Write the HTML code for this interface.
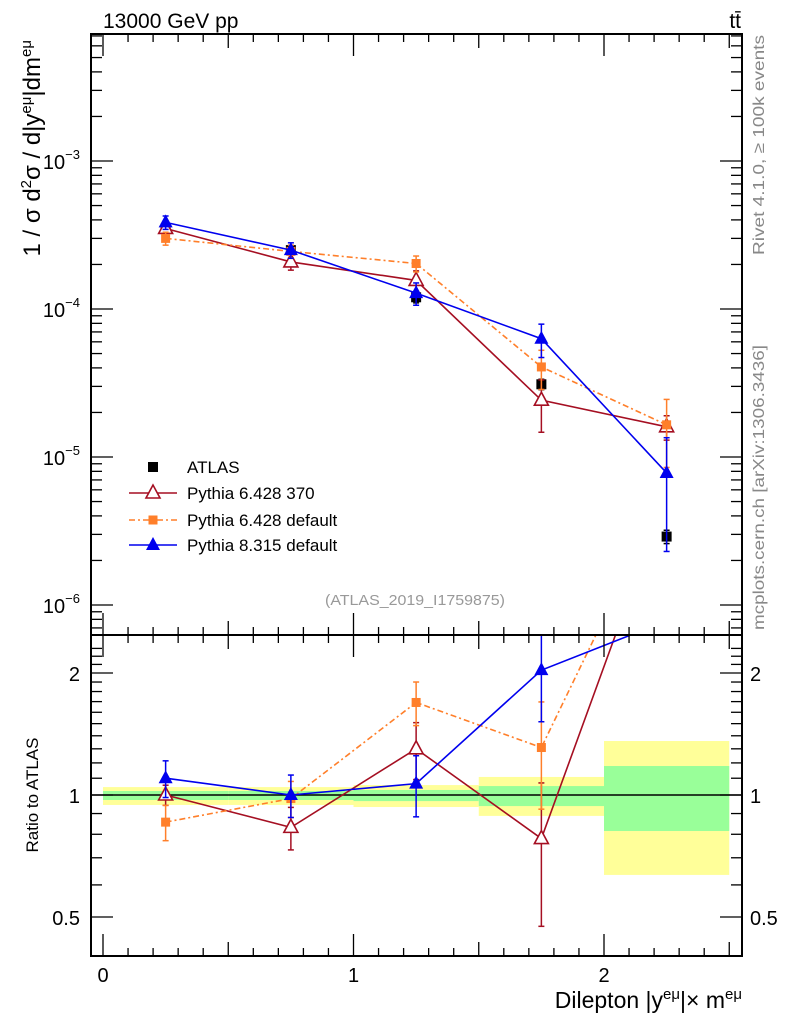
<!DOCTYPE html>
<html><head><meta charset="utf-8"><style>
html,body{margin:0;padding:0;background:#fff;}
svg{display:block;font-family:"Liberation Sans",sans-serif;}
</style></head><body>
<svg id="chart" width="786" height="1024" viewBox="0 0 786 1024" xmlns="http://www.w3.org/2000/svg">
<rect width="786" height="1024" fill="#fff"/>
<g id="bands"></g>
<g id="marks"></g>
<g id="axes"></g>
<text x="103" y="28" font-size="21">13000 GeV pp</text>
<text x="741" y="28" font-size="21" text-anchor="end">tt̄</text>
<text transform="translate(764,35) rotate(-90)" font-size="16" fill="#888" text-anchor="end" textLength="220" lengthAdjust="spacingAndGlyphs">Rivet 4.1.0, ≥ 100k events</text>
<text transform="translate(764,630) rotate(-90)" font-size="16" fill="#888" textLength="285" lengthAdjust="spacingAndGlyphs">mcplots.cern.ch [arXiv:1306.3436]</text>
<text x="415" y="605" font-size="15" fill="#999" text-anchor="middle" textLength="180" lengthAdjust="spacingAndGlyphs">(ATLAS_2019_I1759875)</text>
<text transform="translate(40,40) rotate(-90)" font-size="24" text-anchor="end">1 / σ  d<tspan font-size="15" dy="-9">2</tspan><tspan dy="9">σ / d|y</tspan><tspan font-size="15" dy="-9">eμ</tspan><tspan dy="9">|dm</tspan><tspan font-size="15" dy="-9">eμ</tspan></text>
<text transform="translate(38,795) rotate(-90)" font-size="17" text-anchor="middle">Ratio to ATLAS</text>
<text x="742" y="1008" font-size="23" text-anchor="end">Dilepton |y<tspan font-size="15" dy="-9">eμ</tspan><tspan dy="9">|× m</tspan><tspan font-size="15" dy="-9">eμ</tspan></text>
<g id="legend"></g>
</svg>
<script>
const xCenters=[0.25,0.75,1.25,1.75,2.25];
const binEdges=[0,0.5,1,1.5,2,2.5];
const atlasVals=[3.5e-4,2.5e-4,1.2e-4,3.1e-5,2.9e-6];
const atlasErr=[0.15e-4,0.15e-4,0.1e-4,0.25e-5,0.3e-6];
const p6370Vals=[3.5e-4,2.08e-4,1.56e-4,2.42e-5,1.6e-5];
const p6370Up=[0.2e-4,0.25e-4,0.25e-4,0.9e-5,0.3e-5];
const p6370Dn=[0.2e-4,0.25e-4,0.25e-4,0.95e-5,0.3e-5];
const p6defVals=[3.0e-4,2.45e-4,2.03e-4,4.06e-5,1.65e-5];
const p6defUp=[0.3e-4,0.25e-4,0.25e-4,1.2e-5,0.8e-5];
const p6defDn=[0.3e-4,0.25e-4,0.25e-4,1.2e-5,0.8e-5];
const p8Vals=[3.85e-4,2.5e-4,1.28e-4,6.3e-5,7.8e-6];
const p8Up=[0.4e-4,0.3e-4,0.22e-4,1.6e-5,5.7e-6];
const p8Dn=[0.4e-4,0.3e-4,0.22e-4,1.6e-5,5.5e-6];
const yellowHi=[1.046,1.046,1.058,1.108,1.359];
const yellowLo=[0.945,0.945,0.934,0.888,0.635];
const greenHi=[1.023,1.023,1.029,1.052,1.179];
const greenLo=[0.972,0.972,0.966,0.939,0.815];
const mainTicks=[-6,-5,-4,-3];
const ratioTicks=[0.5,1,2];
const xTicks=[0,1,2];

const NS='http://www.w3.org/2000/svg';
const L=91,R=742,T=34,MB=635,RB=956;
const X=v=>103+(v)*250.5;
const Y=v=>605-(Math.log10(v)+6)*148;
const YR=v=>795-Math.log2(v)*122;
function el(tag,attrs,parent,text){const e=document.createElementNS(NS,tag);for(const k in attrs)e.setAttribute(k,attrs[k]);if(text!==undefined)e.textContent=text;parent.appendChild(e);return e;}
const bands=document.getElementById('bands'),marks=document.getElementById('marks'),axes=document.getElementById('axes'),legend=document.getElementById('legend');

for(let i=0;i<5;i++){
  const x0=X(binEdges[i]),x1=X(binEdges[i+1]);
  let r=el('rect',{x:x0,y:YR(yellowHi[i]),width:x1-x0,height:YR(yellowLo[i])-YR(yellowHi[i]),fill:'#ffff99'},bands);
  
  
  r=el('rect',{x:x0,y:YR(greenHi[i]),width:x1-x0,height:YR(greenLo[i])-YR(greenHi[i]),fill:'#99ff99'},bands);
  
  
}
let one=el('line',{x1:L,x2:R,y1:YR(1),y2:YR(1),stroke:'#000','stroke-width':1.5},bands);



function marker(type,x,y,color,g){
  if(type==='sq')el('rect',{x:x-5,y:y-5,width:10,height:10,fill:color},g);
  else if(type==='ssq')el('rect',{x:x-4.5,y:y-4.5,width:9,height:9,fill:color},g);
  else if(type==='tri')el('polygon',{points:`${x},${y-8} ${x-7},${y+5} ${x+7},${y+5}`,fill:color},g);
  else if(type==='otri')el('polygon',{points:`${x},${y-8} ${x-7},${y+5} ${x+7},${y+5}`,fill:'#fff',stroke:color,'stroke-width':1.6},g);
}
function series(name,vals,up,dn,color,dash,mtype){
  const g=el('g',{},marks);
  
  
  const gm=el('g',{'clip-path':'url(#cmain)'},g);
  const gr=el('g',{'clip-path':'url(#cratio)'},g);
  if(up){
    el('polyline',{points:vals.map((v,i)=>X(xCenters[i])+','+Y(v)).join(' '),fill:'none',stroke:color,'stroke-width':1.6,'stroke-dasharray':dash},gm);
    el('polyline',{points:vals.map((v,i)=>X(xCenters[i])+','+YR(v/atlasVals[i])).join(' '),fill:'none',stroke:color,'stroke-width':1.6,'stroke-dasharray':dash},gr);
  }
  vals.forEach((v,i)=>{
    const x=X(xCenters[i]);
    const u=up?up[i]:atlasErr[i], d=dn?dn[i]:atlasErr[i];
    el('line',{x1:x,x2:x,y1:Y(v+u),y2:Y(v-d),stroke:color,'stroke-width':1.5},gm);
    el('line',{x1:x-3,x2:x+3,y1:Y(v+u),y2:Y(v+u),stroke:color,'stroke-width':1.5},gm);
    el('line',{x1:x-3,x2:x+3,y1:Y(v-d),y2:Y(v-d),stroke:color,'stroke-width':1.5},gm);
    marker(mtype,x,Y(v),color,gm);
    if(up){
      const a=atlasVals[i];
      if(YR(v/a)<MB) return;
      el('line',{x1:x,x2:x,y1:YR((v+u)/a),y2:YR((v-d)/a),stroke:color,'stroke-width':1.5},gr);
      el('line',{x1:x-3,x2:x+3,y1:YR((v+u)/a),y2:YR((v+u)/a),stroke:color,'stroke-width':1.5},gr);
      el('line',{x1:x-3,x2:x+3,y1:YR((v-d)/a),y2:YR((v-d)/a),stroke:color,'stroke-width':1.5},gr);
      marker(mtype,x,YR(v/a),color,gr);
    }
  });
}
const defs=el('defs',{},document.getElementById('chart'));
const c1=el('clipPath',{id:'cmain'},defs);el('rect',{x:L,y:T,width:R-L,height:MB-T},c1);
const c2=el('clipPath',{id:'cratio'},defs);el('rect',{x:L,y:MB,width:R-L,height:RB-MB},c2);
series('atlas',atlasVals,null,null,'#000','','sq');
series('pythia6-370',p6370Vals,p6370Up,p6370Dn,'#a50f22','','otri');
series('pythia6-default',p6defVals,p6defUp,p6defDn,'#ff7f2a','6 3 2 3','ssq');
series('pythia8-default',p8Vals,p8Up,p8Dn,'#0000ee','','tri');

[[T,MB],[MB,RB]].forEach((f,k)=>{const r=el('rect',{x:L,y:f[0],width:R-L,height:f[1]-f[0],fill:'none',stroke:'#000','stroke-width':2},axes);

});
for(let d=-7;d<=-2;d++){for(let m=1;m<10;m++){const v=m*Math.pow(10,d);const y=Y(v);if(y<T||y>MB)continue;const len=m===1?22:11;
el('line',{x1:L,x2:L+len,y1:y,y2:y,stroke:'#000','stroke-width':1.3},axes);el('line',{x1:R-len,x2:R,y1:y,y2:y,stroke:'#000','stroke-width':1.3},axes);}}
mainTicks.forEach(d=>{const t=el('text',{x:80,y:Y(Math.pow(10,d))+8,'font-size':20,'text-anchor':'end'},axes);


t.appendChild(document.createTextNode('10'));el('tspan',{'font-size':13,dy:-10},t,'−'+(-d));});
const rminor=[0.4,0.5,0.6,0.7,0.8,0.9,1,1.1,1.2,1.3,1.4,1.5,1.6,1.7,1.8,1.9,2,2.1,2.2,2.3];
rminor.forEach(v=>{const y=YR(v);if(y<MB||y>RB)return;const len=(v===0.5||v===1||v===2)?22:11;
el('line',{x1:L,x2:L+len,y1:y,y2:y,stroke:'#000','stroke-width':1.3},axes);el('line',{x1:R-len,x2:R,y1:y,y2:y,stroke:'#000','stroke-width':1.3},axes);});
ratioTicks.forEach(v=>{let t=el('text',{x:80,y:YR(v)+8,'font-size':20,'text-anchor':'end'},axes,String(v));


t=el('text',{x:750,y:YR(v)+8,'font-size':20},axes,String(v));

});
for(let i=0;i<=25;i++){const v=i/10,x=X(v);const len=i%10===0?22:(i%5===0?14:8);
[[T,1],[MB,-1],[MB,1],[RB,-1]].forEach(p=>el('line',{x1:x,x2:x,y1:p[0],y2:p[0]+p[1]*len,stroke:'#000','stroke-width':1.3},axes));}
xTicks.forEach(v=>{const t=el('text',{x:X(v),y:982,'font-size':20,'text-anchor':'middle'},axes,String(v));

});
const leg=[['ATLAS','#000','','sq',false],['Pythia 6.428 370','#a50f22','','otri',true],['Pythia 6.428 default','#ff7f2a','6 3 2 3','ssq',true],['Pythia 8.315 default','#0000ee','','tri',true]];
const legY=[467,493,520,545];
leg.forEach((e,i)=>{const g=el('g',{},legend);


if(e[4])el('line',{x1:129,x2:177,y1:legY[i],y2:legY[i],stroke:e[1],'stroke-width':1.6,'stroke-dasharray':e[2]},g);
marker(e[3],153,legY[i],e[1],g);
el('text',{x:187,y:legY[i]+6,'font-size':17},g,e[0]);});
</script>
</body></html>
